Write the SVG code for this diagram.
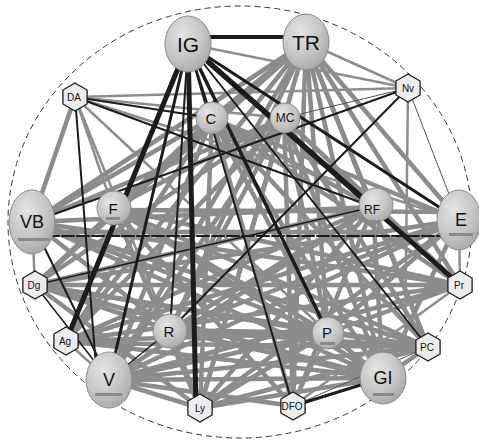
<svg xmlns="http://www.w3.org/2000/svg" xmlns:xlink="http://www.w3.org/1999/xlink" width="479" height="441" viewBox="0 0 479 441">
<defs>
<radialGradient id="ball" cx="0.38" cy="0.32" r="0.75">
<stop offset="0" stop-color="#e4e4e4"/>
<stop offset="0.6" stop-color="#c4c4c4"/>
<stop offset="1" stop-color="#a6a6a6"/>
</radialGradient>
<polygon id="hex" points="0,-14 12.1,-7 12.1,7 0,14 -12.1,7 -12.1,-7"/>
</defs>
<style>
.g{stroke:#8c8c8c;stroke-width:4.5;stroke-linecap:round}
.gt{stroke:#8e8e8e;stroke-width:2.5;stroke-linecap:round}
.t{stroke:#555;stroke-width:1}
.d{stroke:#1c1c1c;stroke-linecap:round}
.ball{fill:url(#ball);stroke:#8a8a8a;stroke-width:1}
.hx{fill:#ececec;stroke:#1a1a1a;stroke-width:1.3}
.bar{fill:#8a8a8a}
text{font-family:"Liberation Sans Narrow","Liberation Sans",Arial,sans-serif;fill:#111;text-anchor:middle}
.L{font-size:21px}
.M{font-size:18px}
.S{font-size:15px}
.XS{font-size:12px}
.H{font-size:10px}
</style>
<rect width="479" height="441" fill="#ffffff"/>
<ellipse cx="240" cy="222" rx="232" ry="216" fill="none" stroke="#333" stroke-width="1" stroke-dasharray="6,4"/>
<g id="connectors">
<!-- gray edges -->
<line class="g" x1="306" y1="42" x2="212" y2="118"/>
<line class="g" x1="306" y1="42" x2="113" y2="208"/>
<line class="g" x1="306" y1="42" x2="32" y2="222"/>
<line class="g" x1="306" y1="42" x2="35" y2="285"/>
<line class="g" x1="306" y1="42" x2="66" y2="341"/>
<line class="g" x1="306" y1="42" x2="109" y2="380"/>
<line class="g" x1="306" y1="42" x2="170" y2="330"/>
<line class="g" x1="306" y1="42" x2="200" y2="408"/>
<line class="g" x1="306" y1="42" x2="293" y2="406"/>
<line class="g" x1="306" y1="42" x2="328" y2="333"/>
<line class="g" x1="306" y1="42" x2="383" y2="378"/>
<line class="g" x1="306" y1="42" x2="428" y2="347"/>
<line class="g" x1="306" y1="42" x2="460" y2="285"/>
<line class="g" x1="306" y1="42" x2="459" y2="220"/>
<line class="g" x1="306" y1="42" x2="373" y2="207"/>
<line class="gt" x1="306" y1="42" x2="408" y2="88"/>
<line class="gt" x1="306" y1="42" x2="284" y2="118"/>
<line class="gt" x1="188" y1="44" x2="408" y2="88"/>
<line class="g" x1="212" y1="118" x2="459" y2="220"/>
<line class="g" x1="212" y1="118" x2="460" y2="285"/>
<line class="g" x1="212" y1="118" x2="428" y2="347"/>
<line class="g" x1="212" y1="118" x2="383" y2="378"/>
<line class="g" x1="212" y1="118" x2="328" y2="333"/>
<line class="g" x1="212" y1="118" x2="200" y2="408"/>
<line class="g" x1="212" y1="118" x2="109" y2="380"/>
<line class="g" x1="212" y1="118" x2="66" y2="341"/>
<line class="g" x1="212" y1="118" x2="35" y2="285"/>
<line class="g" x1="212" y1="118" x2="32" y2="222"/>
<line class="g" x1="212" y1="118" x2="373" y2="207"/>
<line class="g" x1="212" y1="118" x2="293" y2="406"/>
<line class="g" x1="284" y1="118" x2="109" y2="380"/>
<line class="g" x1="284" y1="118" x2="170" y2="330"/>
<line class="g" x1="284" y1="118" x2="200" y2="408"/>
<line class="g" x1="284" y1="118" x2="66" y2="341"/>
<line class="g" x1="284" y1="118" x2="35" y2="285"/>
<line class="g" x1="284" y1="118" x2="32" y2="222"/>
<line class="g" x1="284" y1="118" x2="113" y2="208"/>
<line class="g" x1="284" y1="118" x2="383" y2="378"/>
<line class="g" x1="284" y1="118" x2="428" y2="347"/>
<line class="g" x1="284" y1="118" x2="328" y2="333"/>
<line class="g" x1="284" y1="118" x2="293" y2="406"/>
<line class="g" x1="284" y1="118" x2="460" y2="285"/>
<line class="g" x1="113" y1="210" x2="459" y2="212"/>
<line class="g" x1="113" y1="208" x2="328" y2="333"/>
<line class="g" x1="113" y1="208" x2="383" y2="378"/>
<line class="g" x1="113" y1="208" x2="428" y2="347"/>
<line class="g" x1="113" y1="208" x2="460" y2="285"/>
<line class="g" x1="113" y1="208" x2="200" y2="408"/>
<line class="g" x1="113" y1="208" x2="293" y2="406"/>
<line class="g" x1="373" y1="207" x2="109" y2="380"/>
<line class="g" x1="373" y1="207" x2="66" y2="341"/>
<line class="g" x1="373" y1="207" x2="35" y2="285"/>
<line class="g" x1="373" y1="207" x2="170" y2="330"/>
<line class="g" x1="373" y1="207" x2="200" y2="408"/>
<line class="g" x1="373" y1="207" x2="293" y2="406"/>
<line class="g" x1="373" y1="207" x2="383" y2="378"/>
<line class="g" x1="373" y1="207" x2="428" y2="347"/>
<line class="gt" x1="459" y1="220" x2="460" y2="285"/>
<line class="g" x1="459" y1="220" x2="35" y2="285"/>
<line class="g" x1="459" y1="220" x2="66" y2="341"/>
<line class="g" x1="459" y1="220" x2="109" y2="380"/>
<line class="g" x1="459" y1="220" x2="170" y2="330"/>
<line class="g" x1="459" y1="220" x2="200" y2="408"/>
<line class="g" x1="459" y1="220" x2="328" y2="333"/>
<line class="g" x1="459" y1="220" x2="383" y2="378"/>
<line class="gt" x1="459" y1="220" x2="75" y2="97"/>
<line class="gt" x1="32" y1="222" x2="35" y2="285"/>
<line class="g" x1="32" y1="222" x2="328" y2="333"/>
<line class="g" x1="32" y1="222" x2="428" y2="347"/>
<line class="g" x1="32" y1="222" x2="383" y2="378"/>
<line class="g" x1="32" y1="222" x2="460" y2="285"/>
<line class="g" x1="32" y1="222" x2="170" y2="330"/>
<line class="g" x1="32" y1="232" x2="373" y2="232"/>
<line class="g" x1="32" y1="222" x2="373" y2="207"/>
<line class="g" x1="32" y1="222" x2="75" y2="97"/>
<line class="g" x1="35" y1="285" x2="328" y2="333"/>
<line class="g" x1="35" y1="285" x2="383" y2="378"/>
<line class="g" x1="35" y1="285" x2="428" y2="347"/>
<line class="g" x1="35" y1="285" x2="460" y2="285"/>
<line class="g" x1="35" y1="285" x2="170" y2="330"/>
<line class="g" x1="35" y1="285" x2="200" y2="408"/>
<line class="g" x1="66" y1="343" x2="428" y2="347"/>
<line class="g" x1="66" y1="341" x2="383" y2="378"/>
<line class="g" x1="66" y1="341" x2="328" y2="333"/>
<line class="gt" x1="66" y1="341" x2="109" y2="380"/>
<line class="g" x1="66" y1="341" x2="460" y2="285"/>
<line class="g" x1="109" y1="380" x2="383" y2="378"/>
<line class="g" x1="109" y1="380" x2="428" y2="347"/>
<line class="g" x1="109" y1="380" x2="328" y2="333"/>
<line class="g" x1="109" y1="380" x2="200" y2="408"/>
<line class="g" x1="109" y1="380" x2="460" y2="285"/>
<line class="g" x1="109" y1="380" x2="293" y2="406"/>
<line class="g" x1="170" y1="330" x2="328" y2="333"/>
<line class="g" x1="170" y1="330" x2="428" y2="347"/>
<line class="g" x1="170" y1="330" x2="383" y2="378"/>
<line class="g" x1="170" y1="330" x2="200" y2="408"/>
<line class="g" x1="200" y1="408" x2="328" y2="333"/>
<line class="g" x1="200" y1="408" x2="383" y2="378"/>
<line class="g" x1="200" y1="408" x2="428" y2="347"/>
<line class="g" x1="328" y1="333" x2="428" y2="347"/>
<line class="g" x1="328" y1="333" x2="383" y2="378"/>
<line class="gt" x1="328" y1="333" x2="293" y2="406"/>
<line class="g" x1="328" y1="333" x2="460" y2="285"/>
<line class="t" x1="293" y1="406" x2="428" y2="347"/>
<line class="gt" x1="293" y1="406" x2="460" y2="285"/>
<line class="g" x1="383" y1="378" x2="428" y2="347"/>
<line class="t" x1="408" y1="88" x2="284" y2="118"/>
<line class="t" x1="408" y1="88" x2="459" y2="220"/>
<line class="gt" x1="408" y1="88" x2="405" y2="347"/>
<line class="gt" x1="408" y1="88" x2="75" y2="97"/>
<line class="gt" x1="75" y1="97" x2="284" y2="118"/>
<line class="gt" x1="75" y1="97" x2="328" y2="333"/>
<line class="gt" x1="75" y1="97" x2="113" y2="208"/>
<line class="gt" x1="75" y1="97" x2="200" y2="408"/>
<!-- dark edges -->
<line class="d" stroke-width="4" x1="188" y1="37" x2="306" y2="37"/>
<line class="d" stroke-width="5" x1="188" y1="44" x2="66" y2="341"/>
<line class="d" stroke-width="3" x1="188" y1="44" x2="109" y2="380"/>
<line class="d" stroke-width="5" x1="188" y1="44" x2="196" y2="408"/>
<line class="d" stroke-width="3.5" x1="188" y1="44" x2="328" y2="333"/>
<line class="d" stroke-width="5" x1="188" y1="44" x2="373" y2="207"/>
<line class="d" stroke-width="5" x1="188" y1="44" x2="460" y2="285"/>
<line class="d" stroke-width="3" x1="188" y1="44" x2="459" y2="220"/>
<line class="d" stroke-width="2" x1="188" y1="44" x2="293" y2="406"/>
<line class="d" stroke-width="2" x1="188" y1="44" x2="170" y2="330"/>
<line class="d" stroke-width="2" x1="188" y1="44" x2="428" y2="347"/>
<line class="d" stroke-width="2" x1="188" y1="44" x2="212" y2="118"/>
<line class="d" stroke-width="2" x1="75" y1="97" x2="212" y2="118"/>
<line class="d" stroke-width="2" x1="75" y1="97" x2="373" y2="207"/>
<line class="d" stroke-width="2" x1="75" y1="97" x2="97" y2="380"/>
<line class="d" stroke-width="2" stroke-dasharray="12,3" x1="32" y1="236" x2="459" y2="236"/>
<line class="d" stroke-width="2" x1="32" y1="222" x2="408" y2="88"/>
<line class="d" stroke-width="2" x1="32" y1="222" x2="109" y2="380"/>
<line class="d" stroke-width="2" x1="408" y1="88" x2="170" y2="330"/>
<line class="d" stroke-width="1.5" x1="35" y1="285" x2="109" y2="380"/>
<line class="d" stroke-width="1.5" x1="170" y1="330" x2="109" y2="380"/>
<line class="d" stroke-width="1.5" x1="35" y1="285" x2="373" y2="207"/>
<line class="d" stroke-width="3" x1="293" y1="406" x2="383" y2="378"/>
</g>
<g id="node-IG"><ellipse class="ball" cx="188" cy="44" rx="23" ry="28"/><text class="L" x="188" y="52">IG</text></g>
<g id="node-TR"><ellipse class="ball" cx="306" cy="42" rx="23" ry="28"/><text class="L" x="306" y="50">TR</text></g>
<g id="node-C"><circle class="ball" cx="212" cy="118" r="16"/><text class="S" x="211" y="124">C</text></g>
<g id="node-MC"><circle class="ball" cx="285" cy="118" r="15"/><text class="XS" x="285" y="122">MC</text></g>
<g id="node-F"><circle class="ball" cx="114" cy="208" r="17"/><text class="S" x="113" y="214">F</text><rect class="bar" x="106" y="217" width="14" height="3"/></g>
<g id="node-RF"><circle class="ball" cx="376" cy="205" r="17"/><text class="XS" x="372" y="214">RF</text><rect class="bar" x="366" y="220" width="14" height="3"/></g>
<g id="node-E"><ellipse class="ball" cx="459" cy="220" rx="22" ry="30"/><text class="M" x="461" y="226">E</text><rect class="bar" x="449" y="233" width="24" height="3"/></g>
<g id="node-VB"><ellipse class="ball" cx="32" cy="222" rx="23" ry="32"/><text class="M" x="32" y="228">VB</text><rect class="bar" x="18" y="238" width="32" height="3"/></g>
<g id="node-V"><ellipse class="ball" cx="109" cy="380" rx="23" ry="28"/><text class="M" x="109" y="386">V</text><rect class="bar" x="95" y="393" width="27" height="3"/></g>
<g id="node-R"><circle class="ball" cx="170" cy="331" r="17"/><text class="S" x="169" y="337">R</text></g>
<g id="node-P"><circle class="ball" cx="328" cy="333" r="16"/><text class="S" x="327" y="338">P</text><rect class="bar" x="320" y="342" width="15" height="3"/></g>
<g id="node-GI"><ellipse class="ball" cx="383" cy="378" rx="23" ry="26"/><text class="M" x="383" y="384">GI</text><rect class="bar" x="373" y="393" width="21" height="3"/></g>
<g id="node-DA"><use href="#hex" class="hx" x="75" y="97"/><text class="H" x="74" y="101">DA</text></g>
<g id="node-Nv"><use href="#hex" class="hx" x="408" y="88"/><text class="H" x="408" y="92">Nv</text></g>
<g id="node-Dg"><use href="#hex" class="hx" x="35" y="285"/><text class="H" x="34" y="289">Dg</text></g>
<g id="node-Ag"><use href="#hex" class="hx" x="66" y="341"/><text class="H" x="65" y="345">Ag</text></g>
<g id="node-Ly"><use href="#hex" class="hx" x="200" y="408"/><text class="H" x="200" y="412">Ly</text></g>
<g id="node-DFO"><use href="#hex" class="hx" x="293" y="406"/><text class="H" x="292" y="410">DFO</text></g>
<g id="node-PC"><use href="#hex" class="hx" x="428" y="347"/><text class="H" x="427" y="351">PC</text></g>
<g id="node-Pr"><use href="#hex" class="hx" x="460" y="285"/><text class="H" x="459" y="289">Pr</text></g>
</svg>
